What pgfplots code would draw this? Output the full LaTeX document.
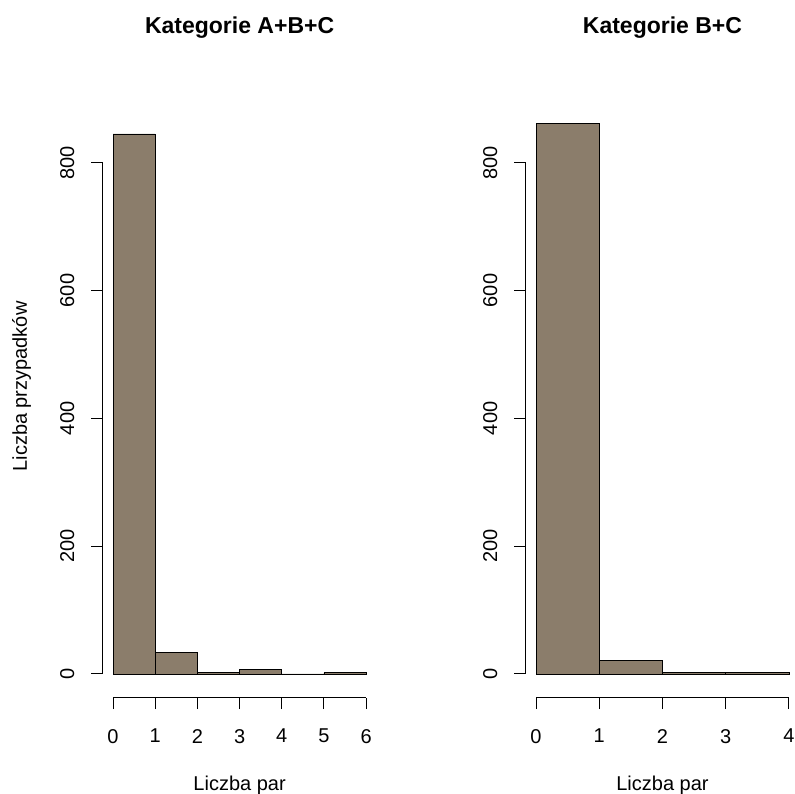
\documentclass[border=0pt]{standalone}
\usepackage{pgfplots}
\pgfplotsset{compat=1.18}
\usepackage{fontspec}
\setmainfont{Liberation Sans}
\definecolor{bisque4}{RGB}{139,125,107}
\pgfplotsset{rhist/.style={
  scale only axis, anchor=south west, clip=false,
  height=621.5pt,
  axis line style={draw=none},
  tick align=outside, xtick pos=bottom, ytick pos=left,
  major tick length=11.5pt,
  tick style={line width=1pt, black},
  ymin=-36.8, ymax=935.7,
  ytick={0,200,400,600,800},
  /pgf/number format/assume math mode=true,
  ticklabel style={font=\fontsize{20}{24}\selectfont},
  yticklabel style={rotate=90, anchor=south, inner sep=0pt, yshift=17pt},
  xticklabel style={anchor=north, inner sep=0pt, yshift=-20pt},
}}
\begin{document}
\begin{tikzpicture}
\path[use as bounding box] (0,0) rectangle (795pt,793pt);
\begin{axis}[rhist, at={(102.9pt,95.5pt)}, width=273.4pt,
  xmin=-0.24, xmax=6.24, xtick={0,1,2,3,4,5,6}]
\addplot[ybar interval, fill=bisque4, draw=black, line width=0.9pt]
  coordinates {(0,845) (1,33) (2,3) (3,7) (4,0) (5,2) (6,2)};
\draw[line width=1pt] (axis cs:0,-36.8) -- (axis cs:6,-36.8);
\draw[line width=1pt] (axis cs:-0.24,0) -- (axis cs:-0.24,800);
\end{axis}
\begin{axis}[rhist, at={(525.9pt,95.5pt)}, width=273.2pt,
  xmin=-0.16, xmax=4.16, xtick={0,1,2,3,4}]
\addplot[ybar interval, fill=bisque4, draw=black, line width=0.9pt]
  coordinates {(0,861) (1,21) (2,3) (3,3) (4,3)};
\draw[line width=1pt] (axis cs:0,-36.8) -- (axis cs:4,-36.8);
\draw[line width=1pt] (axis cs:-0.16,0) -- (axis cs:-0.16,800);
\end{axis}
\node[font=\bfseries\fontsize{23}{27}\selectfont, anchor=base] at (239.6pt,759.7pt) {Kategorie A+B+C};
\node[font=\bfseries\fontsize{23}{27}\selectfont, anchor=base] at (662.5pt,759.7pt) {Kategorie B+C};
\node[font=\fontsize{20}{24}\selectfont, anchor=base] at (239.6pt,3pt) {Liczba par};
\node[font=\fontsize{20}{24}\selectfont, anchor=base] at (662.5pt,3pt) {Liczba par};
\node[font=\fontsize{20}{24}\selectfont, anchor=base, rotate=90] at (27pt,406.5pt) {Liczba przypadków};
\end{tikzpicture}
\end{document}
